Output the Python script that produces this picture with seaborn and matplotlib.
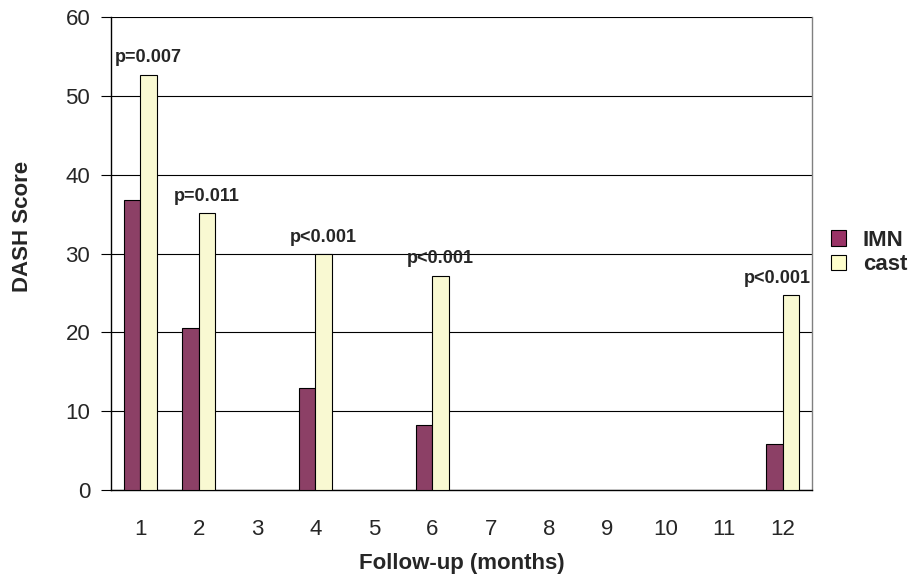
import matplotlib
matplotlib.use("Agg")
import matplotlib.pyplot as plt
import seaborn as sns
import pandas as pd
import numpy as np
from matplotlib.patches import Patch

months = [str(m) for m in range(1, 13)]
data_months = ["1", "2", "4", "6", "12"]
imn = [36.8, 20.6, 12.9, 8.3, 5.8]
cast = [52.7, 35.1, 29.9, 27.2, 24.7]
pvals = ["p=0.007", "p=0.011", "p<0.001", "p<0.001", "p<0.001"]
groups = ["IMN", "cast"]
colors = {"IMN": "#993366", "cast": "#FFFFCC"}

df = pd.DataFrame({
    "month": data_months * 2,
    "score": imn + cast,
    "group": ["IMN"] * len(imn) + ["cast"] * len(cast),
})

sns.set_theme(style="white")
plt.rcParams['font.family'] = ['Liberation Sans', 'DejaVu Sans']

fig = plt.figure(figsize=(9.2, 5.81), dpi=100)
ax = fig.add_axes([111/920, 1 - 490/581, (812-111)/920, (490-17)/581])

sns.barplot(data=df, x="month", y="score", hue="group", order=months,
            hue_order=groups, palette=colors, width=0.57, gap=0,
            edgecolor="black", linewidth=0.8, ax=ax, legend=False, zorder=3)

ax.set_ylim(0, 60)
ax.set_xlim(-0.5, 11.5)
ax.set_yticks(range(0, 61, 10))
ax.yaxis.grid(True, color="black", linewidth=0.8)
ax.set_axisbelow(True)
ax.tick_params(axis="y", which="both", left=True, length=7, width=0.8, color="black",
               labelsize=16, pad=8)
ax.tick_params(axis="x", bottom=False, labelsize=16, pad=15)

for s in ["left", "bottom"]:
    ax.spines[s].set_color("black")
    ax.spines[s].set_linewidth(1.0)
ax.spines["top"].set_visible(False)
ax.spines["right"].set_color("#808080")
ax.spines["right"].set_linewidth(1.0)

ax.set_xlabel("Follow-up (months)", fontsize=16, fontweight="bold")
ax.set_ylabel("DASH Score", fontsize=16, fontweight="bold")
ax.xaxis.set_label_coords(0.5, -0.133)
ax.yaxis.set_label_coords(-0.111, 0.558)

offsets = [0.14, 0.14, 0.14, 0.14, -0.1]
for m, v, p, off in zip(data_months, cast, pvals, offsets):
    xi = months.index(m)
    ax.text(xi + off, v + 1.1, p, ha="center", va="bottom",
            fontsize=13, fontweight="bold", zorder=5)

handles = [Patch(facecolor=colors[g], edgecolor="black", linewidth=0.8, label=g) for g in groups]
fig.legend(handles=handles, loc="upper left", bbox_to_anchor=(813/920, 1 - 212/581),
           frameon=False, handlelength=0.7, handleheight=0.7, handletextpad=0.75,
           labelspacing=0.15, borderpad=0.3, prop={"size": 16, "weight": "bold"})

fig.savefig("out.png", dpi=100)
